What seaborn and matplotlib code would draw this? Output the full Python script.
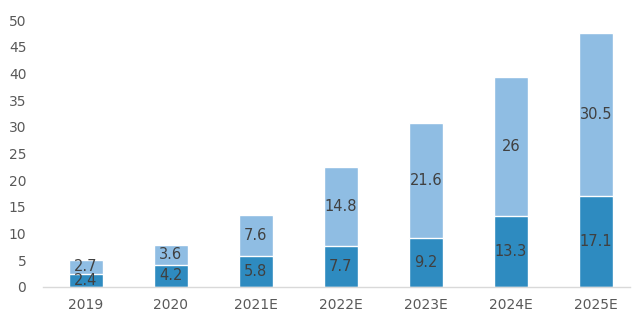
import matplotlib
matplotlib.use("Agg")
import matplotlib.pyplot as plt
import seaborn as sns
import pandas as pd

categories = ["2019", "2020", "2021E", "2022E", "2023E", "2024E", "2025E"]
lower = [2.4, 4.2, 5.8, 7.7, 9.2, 13.3, 17.1]
upper = [2.7, 3.6, 7.6, 14.8, 21.6, 26, 30.5]
yticks = [0, 5, 10, 15, 20, 25, 30, 35, 40, 45, 50]

sns.set_theme(style="white")
plt.rcParams['font.family'] = ['DejaVu Sans']

df = pd.DataFrame({"cat": categories, "lower": lower, "upper": upper})
df["total"] = df["lower"] + df["upper"]

fig = plt.figure(figsize=(6.38, 3.27), dpi=100)
ax = fig.add_axes([43/638, 1 - 287/327, (630 - 43)/638, (287 - 20)/327])

dark = "#2E8BC0"
light = "#8FBDE3"
sns.barplot(data=df, x="cat", y="total", color=light, width=0.4, ax=ax,
            saturation=1, errorbar=None)
sns.barplot(data=df, x="cat", y="lower", color=dark, width=0.4, ax=ax,
            saturation=1, errorbar=None)

for i, (lo, up) in enumerate(zip(lower, upper)):
    ax.text(i, lo / 2, f"{lo:g}", ha="center", va="center", fontsize=10.5, color="#404040")
    ax.text(i, lo + up / 2, f"{up:g}", ha="center", va="center", fontsize=10.5, color="#404040")

ax.set_ylim(0, 50)
ax.set_xlim(-0.5, 6.4)
ax.set_yticks(yticks)
ax.set_yticklabels([str(t) for t in yticks])
ax.set_xlabel("")
ax.set_ylabel("")
ax.tick_params(axis="both", length=0, colors="#595959", labelsize=10)
ax.tick_params(axis="y", pad=12)
ax.tick_params(axis="x", pad=8)
for s in ["top", "right", "left"]:
    ax.spines[s].set_visible(False)
ax.spines["bottom"].set_color("#D9D9D9")
ax.spines["bottom"].set_linewidth(1)

fig.savefig("out.png", dpi=100)
